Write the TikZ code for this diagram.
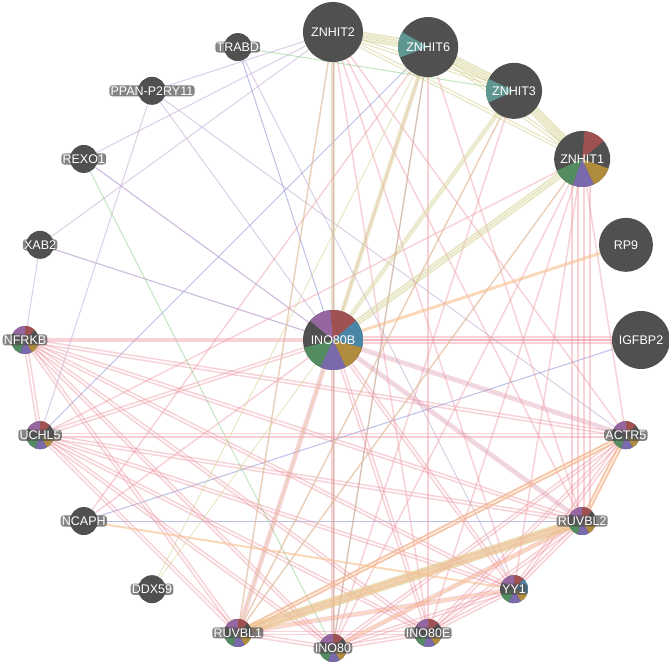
\documentclass[tikz,border=0pt]{standalone}
\usepackage{fontspec}
\setmainfont{Liberation Sans}
\usetikzlibrary{backgrounds,calc}

\definecolor{genegray}{RGB}{80,80,80}
\definecolor{sred}{RGB}{160,82,82}
\definecolor{smauve}{RGB}{150,102,160}
\definecolor{sgreen}{RGB}{82,140,96}
\definecolor{spurple}{RGB}{122,106,172}
\definecolor{sgold}{RGB}{176,140,62}
\definecolor{sblue}{RGB}{76,134,166}
\definecolor{steal}{RGB}{96,150,146}
\definecolor{physcol}{RGB}{236,145,155}
\definecolor{coexpcol}{RGB}{196,174,214}
\definecolor{coloccol}{RGB}{140,150,215}
\definecolor{genetcol}{RGB}{150,210,150}
\definecolor{domaincol}{RGB}{214,210,150}
\definecolor{predcol}{RGB}{246,190,140}

\newcommand\genefont{\fontsize{12.5}{14}\selectfont}
% pie slices: start/end/colour
\def\piecx{45/90/sred,90/150/smauve,200/250/sgreen,250/300/spurple,300/340/sgold}
\def\piecxb{45/90/sred,90/150/smauve,200/250/sgreen,250/300/spurple,300/340/sgold,340/405/sblue}
\def\piehub{40/95/sred,95/140/smauve,-15/40/sblue,-65/-15/sgold,-115/-65/spurple,-165/-115/sgreen}
\def\pieone{40/85/sred,205/250/sgreen,250/295/spurple,295/340/sgold}
\def\piesix{150/200/steal}
\def\piethree{155/205/steal}
% a bundle of parallel edges: style, from, to, offsets
\newcommand\bundle[4]{\foreach \o in {#4}
  {\draw[#1] ($(#2)!\o!90:(#3)$) -- ($(#3)!\o!-90:(#2)$);}}

\begin{document}
\begin{tikzpicture}[
  gene/.style={circle, fill=genegray, inner sep=0pt, text=white, font=\genefont},
  biggene/.style={gene, minimum size=#1},
  smallgene/.style={gene, minimum size=28pt},
  tag/.style={rounded corners=3pt, fill=genegray, fill opacity=0.7, text opacity=1,
    text=white, inner sep=1.2pt, font=\genefont},
  pie/.style={path picture={%
    \expandafter\let\expandafter\pielist\csname pie#1\endcsname
    \foreach \a/\b/\c in \pielist {
    \fill[\c] (path picture bounding box.center) -- ++(\a:40pt)
      arc[start angle=\a, end angle=\b, radius=40pt] -- cycle;}}},
  phys/.style={physcol, line width=1.5pt, opacity=.4},
  coexp/.style={coexpcol, line width=1pt, opacity=.6},
  coloc/.style={coloccol, line width=1pt, opacity=.6},
  genet/.style={genetcol, line width=1pt, opacity=.6},
  domain/.style={domaincol, line width=#1, opacity=.55},
  pred/.style={predcol, line width=#1, opacity=.6}
]
\useasboundingbox (-333pt,-326pt) rectangle (336pt,340pt);

% hub and large genes
\node[biggene=60pt, pie=hub] (INO80B) at (0,0) {INO80B};
\node[biggene=60pt] (ZNHIT2) at (90:308pt) {ZNHIT2};
\node[biggene=60pt, pie=six] (ZNHIT6) at (72:308pt) {ZNHIT6};
\node[biggene=56pt, pie=three] (ZNHIT3) at (54:308pt) {ZNHIT3};
\node[biggene=56pt, pie=one] (ZNHIT1) at (36:308pt) {ZNHIT1};
\node[biggene=54pt] (RP9) at (18:308pt) {RP9};
\node[biggene=58pt] (IGFBP2) at (0:308pt) {IGFBP2};

% small genes of the complex
\foreach \n/\ang/\p in {NFRKB/180/cx, UCHL5/-162/cx, ACTR5/-18/cx,
    RUVBL2/-36/cx, YY1/-54/cxb, INO80E/-72/cx, INO80/-90/cx, RUVBL1/-108/cx}
  {\node[smallgene, pie=\p] (\n) at (\ang:308pt) {};
   \node[tag] (\n-t) at (\n) {\n};}

% small plain genes
\foreach \n/\ang/\t in {TRABD/108/TRABD, PPAN/126/PPAN-P2RY11, REXO1/144/REXO1,
    XAB2/162/XAB2, NCAPH/-144/NCAPH, DDX59/-126/DDX59}
  {\node[smallgene] (\n) at (\ang:308pt) {};
   \node[tag] (\n-t) at (\n) {\t};}

\begin{scope}[on background layer]
% co-expression, co-localisation, genetic
\foreach \a/\b in {XAB2/ZNHIT2, REXO1/ZNHIT2, XAB2/INO80B, REXO1/INO80B,
    REXO1/RUVBL2, PPAN/INO80B, PPAN/ACTR5, PPAN/UCHL5, XAB2/NFRKB,
    TRABD/YY1, XAB2/ACTR5, PPAN/ZNHIT2}
  {\draw[coexp] (\a) -- (\b);}
\foreach \a/\b in {TRABD/INO80B, UCHL5/ZNHIT6, NCAPH/RUVBL2, IGFBP2/NCAPH}
  {\draw[coloc] (\a) -- (\b);}
\foreach \a/\b in {TRABD/ZNHIT3, REXO1/INO80, ZNHIT2/INO80, ZNHIT6/INO80}
  {\draw[genet] (\a) -- (\b);}

% physical interactions
\foreach \a [count=\i] in {INO80B,NFRKB,UCHL5,ACTR5,RUVBL2,YY1,INO80E,INO80,RUVBL1}
  {\foreach \b [count=\j] in {INO80B,NFRKB,UCHL5,ACTR5,RUVBL2,YY1,INO80E,INO80,RUVBL1}
    {\ifnum\j>\i \bundle{phys}{\a}{\b}{-1.6pt,1.6pt}\fi}}
\foreach \a/\b in {ZNHIT1/ACTR5, ZNHIT1/YY1, ZNHIT1/INO80E,
    ZNHIT1/INO80, ZNHIT1/RUVBL1, ZNHIT1/UCHL5, ZNHIT2/RUVBL2, ZNHIT2/YY1,
    ZNHIT2/INO80, ZNHIT2/RUVBL1, ZNHIT2/INO80E, ZNHIT2/ACTR5, ZNHIT6/RUVBL1,
    ZNHIT6/INO80, ZNHIT6/RUVBL2, ZNHIT6/INO80E, ZNHIT3/RUVBL1, ZNHIT3/INO80,
    IGFBP2/NFRKB, NCAPH/INO80B, NCAPH/ZNHIT6}
  {\bundle{phys}{\a}{\b}{0pt}}
\bundle{phys}{ZNHIT1}{RUVBL2}{-10pt,-4pt,2pt,8pt}
\bundle{phys}{IGFBP2}{INO80B}{-3pt,0pt,3pt}

% shared protein domains
\foreach \a/\b in {ZNHIT2/ZNHIT6, ZNHIT6/ZNHIT3, ZNHIT3/ZNHIT1}
  {\bundle{domain=2pt}{\a}{\b}{-3.5pt,-1pt,1.5pt,4pt}}
\foreach \a/\b in {ZNHIT2/ZNHIT3, ZNHIT6/ZNHIT1, ZNHIT2/ZNHIT1, ZNHIT3/INO80B,
    ZNHIT6/INO80B, ZNHIT2/INO80B}
  {\bundle{domain=1.2pt}{\a}{\b}{-1.5pt,1.5pt}}
\foreach \a/\b in {RUVBL1/ZNHIT2, RUVBL1/ZNHIT6, RUVBL1/ZNHIT3, RUVBL1/ZNHIT1,
    DDX59/ZNHIT6, DDX59/ZNHIT3}
  {\draw[domain=1pt] (\a) -- (\b);}
\bundle{domain=1.8pt}{ZNHIT1}{INO80B}{-2.5pt,0pt,2.5pt}
\bundle{domain=2pt}{RUVBL1}{RUVBL2}{-4pt,-1.5pt,1.5pt,4pt}

% predicted
\draw[pred=3pt] (RP9) -- (INO80B);
\bundle{pred=2pt}{RUVBL1}{RUVBL2}{-3pt,0pt,3pt}
\bundle{pred=2pt}{RUVBL1}{ACTR5}{-1.5pt,1.5pt}
\bundle{pred=2pt}{RUVBL2}{ACTR5}{-1.5pt,1.5pt}
\draw[pred=2pt] (NCAPH) -- (YY1);
\draw[pred=1.5pt] (RUVBL1) -- (YY1);
\draw[pred=2pt] (INO80) -- (RUVBL2);
\end{scope}
\end{tikzpicture}
\end{document}
